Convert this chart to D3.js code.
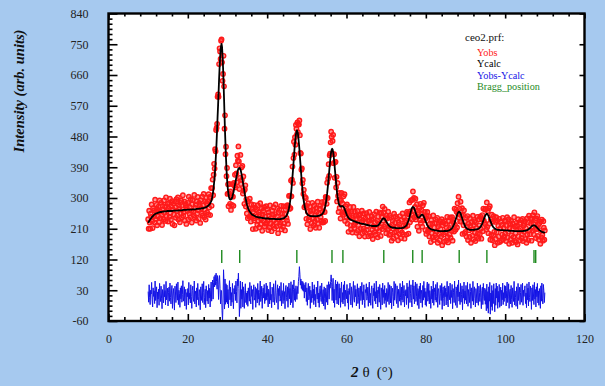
<!DOCTYPE html>
<html>
<head>
<meta charset="utf-8">
<script src="https://cdn.jsdelivr.net/npm/d3@7"></script>
<style>
  body { margin: 0; background: #a6c9ef; }
  svg { display: block; }
</style>
</head>
<body>
<svg id="chart"></svg>
<script>
// scan grid of the refinement (2theta, degrees)
const scanStart = 10;
const scanStep = 0.125;

// Ycalc, one value per step, 10 .. 110 (one row = 5 degrees)
const ycalc = [
  227,230,232,235,237,239,241,243,245,246,248,249,251,252,253,254,255,255,256,256,257,257,258,258,259,259,259,259,260,260,260,260,261,261,261,261,261,261,262,262,
  262,262,262,262,262,262,262,262,262,262,263,263,263,263,263,263,263,263,263,263,263,264,264,264,264,264,264,264,264,264,265,265,265,265,265,265,265,265,265,266,
  266,266,266,266,266,266,266,266,266,267,267,267,267,267,267,267,267,268,268,268,268,268,268,269,269,269,269,269,270,270,270,270,271,271,272,272,273,273,274,275,
  276,277,279,280,282,284,287,290,294,301,309,319,330,345,361,383,407,434,465,499,538,571,608,647,680,709,732,745,751,742,718,683,641,592,543,494,454,416,384,358,
  337,323,312,303,298,296,295,296,297,300,305,311,316,324,332,339,346,354,361,368,376,381,386,387,388,387,384,379,372,364,355,347,338,329,321,311,303,296,289,282,
  277,273,268,265,262,260,257,256,254,252,251,250,250,249,248,247,247,245,245,245,244,244,244,243,243,243,243,242,242,242,242,241,241,241,241,241,240,240,240,240,
  240,240,240,240,239,239,239,239,239,239,239,239,239,239,239,239,238,238,238,238,238,238,238,238,238,238,238,238,239,239,240,240,240,241,241,242,244,245,246,248,
  251,254,259,264,270,278,287,298,311,326,343,361,380,400,420,441,458,474,486,493,498,495,488,476,460,443,422,402,382,363,345,328,313,300,289,281,273,267,262,257,
  255,252,250,250,249,248,248,247,247,247,247,247,247,247,247,247,247,246,247,247,247,247,247,248,248,248,249,249,250,251,252,253,255,257,260,264,269,274,282,291,
  303,314,328,343,359,376,393,409,423,434,441,444,442,435,424,410,394,377,361,345,329,315,304,295,287,281,279,276,275,275,276,276,276,276,274,272,269,265,261,257,
  253,249,247,244,242,240,239,238,237,236,235,235,234,233,233,232,232,231,231,230,229,229,228,228,228,227,227,226,226,225,225,225,224,224,224,224,223,223,223,222,
  222,221,221,221,220,220,220,219,219,219,219,218,218,218,218,218,218,218,218,218,218,218,219,219,220,222,224,226,228,230,233,235,237,239,240,241,240,239,237,234,
  232,229,227,225,222,220,219,217,216,215,215,214,214,213,213,213,213,213,213,212,212,212,212,212,212,212,212,212,212,212,212,212,212,213,213,213,214,215,216,217,
  218,220,223,227,230,234,239,244,250,255,262,267,271,273,274,273,272,268,264,259,255,251,248,245,243,243,243,243,245,247,249,250,251,251,250,248,245,242,238,234,
  230,227,223,220,218,215,213,212,211,210,209,208,208,207,207,207,206,206,205,205,205,205,205,204,204,204,204,203,203,203,203,203,203,203,203,203,203,203,204,204,
  203,203,203,204,204,204,205,205,206,207,208,209,210,212,214,217,220,223,227,232,236,241,246,250,254,257,259,260,259,258,254,251,246,242,237,233,228,225,221,218,
  215,213,212,210,209,209,208,208,207,207,207,207,207,207,207,207,207,207,207,208,208,208,208,208,209,209,210,211,212,213,215,217,220,223,226,230,234,238,242,245,
  249,251,253,254,253,251,249,245,242,238,233,230,226,222,220,217,215,213,212,210,210,209,208,208,207,207,207,207,207,206,206,206,206,206,206,206,206,205,205,205,
  205,205,205,205,205,205,205,204,204,204,204,204,204,204,204,204,204,204,203,203,203,203,203,203,203,203,203,203,203,203,203,203,203,203,203,203,203,204,204,204,
  204,204,205,205,206,206,207,208,209,211,212,213,215,216,218,219,219,220,220,220,219,218,217,215,214,212,211,209,207,206,205,204,203,202,201,200,200,200,199,199,
  197
];

// Yobs - Ycalc, same steps
const residual = [
  11,-20,31,-7,-27,15,4,38,-13,-34,22,-3,13,-24,42,-15,6,25,-36,10,-11,18,-29,35,1,-18,27,-8,-39,17,7,-22,32,-4,14,-28,41,-13,3,21,
  -31,8,24,-17,36,-6,-25,13,29,-38,4,20,-11,-43,27,10,-21,34,-1,-14,39,-27,15,6,-35,22,-10,28,-20,3,43,-17,-7,25,-31,13,18,-41,8,-4,
  20,-28,38,-11,7,-22,31,-3,-38,15,27,-8,-18,42,-25,4,13,-34,22,-13,35,-4,-29,17,10,-42,25,1,-15,34,-21,8,41,-27,-6,18,-36,28,11,-17,
  14,-25,32,-8,21,-34,13,39,-17,28,45,-11,38,55,25,60,30,65,40,18,58,32,-12,45,58,20,-25,15,13,-45,-75,-20,75,35,-40,48,-26,34,-20,30,
  -25,17,-36,11,43,-13,24,-31,8,-20,35,-7,-39,20,4,29,-15,42,11,-22,48,28,65,20,-62,-28,42,-38,17,-11,39,-34,25,-8,-38,14,34,-21,7,-27,
  13,-32,22,4,-17,38,-10,-25,28,-3,17,-41,10,31,-14,-6,25,-35,20,1,-22,35,-11,15,-29,8,42,-18,-4,27,-38,11,21,-8,32,-24,6,-15,36,-13,
  28,-7,-34,18,10,-25,39,-14,3,-36,24,13,-20,34,-4,-28,15,43,-11,-21,8,31,-41,20,-1,27,-17,-10,38,-31,14,4,-24,35,-15,11,-39,22,29,-6,
  -17,25,-35,13,36,-10,20,-28,40,-21,11,31,-36,17,45,-14,20,-18,28,10,-12,26,5,40,55,84,62,30,48,20,42,15,40,12,35,-8,30,10,38,-18,
  22,-29,10,35,-13,-4,27,-38,15,6,-21,39,-8,18,-27,31,-15,3,-34,24,13,-11,42,-22,7,-35,20,28,-6,-18,36,-25,4,17,-31,25,-10,-41,21,11,
  -20,31,-28,14,40,-11,32,21,40,60,38,-15,25,50,-22,18,-35,28,45,-14,33,-25,40,11,-28,34,-8,21,-35,17,39,-20,8,-25,31,-13,42,-32,15,4,
  -10,32,-22,13,-41,20,3,36,-17,-28,25,7,-35,15,41,-11,-20,29,-4,18,-31,10,34,-24,-7,22,-39,14,27,-15,4,38,-27,11,-13,31,-21,-36,17,8,
  34,-14,-4,24,-32,13,39,-22,6,-29,18,28,-10,-38,21,-1,35,-17,11,-25,42,-8,15,-34,25,3,-20,32,-13,-41,22,10,-28,36,-6,17,-24,29,-15,7,
  -35,20,13,-18,38,-11,-27,31,1,-22,27,-39,8,21,-3,-31,41,-14,15,34,-10,-24,28,4,-36,18,11,-17,35,-7,-29,24,-13,42,-20,6,29,-34,14,-1,
  17,-27,36,-8,25,-38,13,43,-21,6,31,-15,-34,22,45,-11,28,-25,10,39,-18,-4,34,-29,20,13,-39,27,-10,36,-22,15,3,-35,29,-14,41,-6,21,-28,
  11,-32,24,39,-17,-7,34,-25,14,1,-38,27,-11,18,-22,42,-29,8,22,-14,32,-20,-3,38,-35,13,20,-8,-27,29,6,-15,35,-41,17,25,-10,-31,28,-4,
  21,-28,11,41,-18,-34,27,4,-13,36,-24,15,-6,32,-39,20,8,-21,42,-11,-29,25,14,-36,31,-4,45,-17,10,-27,35,-20,3,28,-42,18,-8,39,-24,13,
  -14,29,-25,7,38,-32,17,-3,-21,34,11,-38,22,1,-17,41,-28,14,25,-10,-34,20,4,-22,36,-13,-29,27,8,-18,31,-7,-39,15,24,-27,35,-4,-15,21,
  -26,17,-45,33,-38,11,-52,25,-17,38,-55,7,-33,29,-44,14,-24,34,-11,-48,20,-29,36,-8,27,-38,12,-20,32,-35,4,24,-31,15,-13,36,-27,8,-18,29,
  -8,27,-31,14,39,-21,-4,34,-38,10,18,-25,29,-13,-35,22,6,-18,41,-28,13,-6,-32,25,17,-39,35,-15,3,24,-27,8,32,-20,-10,36,-29,15,-3,20,
  28,-24,7,-36,34,-13,21,-31,39,-6,-18,27,10,-41,22,-15,31,4,-27,38,-11,17,-34,25,-4,35,-22,13,-29,20,1,-38,28,-17,36,-8,-25,32,14,-21,
  8
];

const diffOffset = 15;
const braggPositions = [28.55, 33.08, 47.48, 56.34, 59.09, 69.40, 76.70, 79.07, 88.41, 95.39, 107.27, 107.7];
const braggLow = 110, braggHigh = 148;

const xMajor = [0, 20, 40, 60, 80, 100, 120];
const xMinor = d3.range(0, 121, 4);
const yMajor = [-60, 30, 120, 210, 300, 390, 480, 570, 660, 750, 840];
const yMinor = d3.range(-60, 841, 15);

const legendTitle = 'ceo2.prf:';
const legendItems = [
  {label: 'Yobs', color: '#ff1a1a'},
  {label: 'Ycalc', color: '#000000'},
  {label: 'Yobs-Ycalc', color: '#1414e6'},
  {label: 'Bragg_position', color: '#1e8a1e'}
];

const width = 605, height = 386;
const serif = '"Liberation Serif", "Times New Roman", serif';

const x = d3.scaleLinear([0, 120], [108.5, 584.5]);
const y = d3.scaleLinear([-60, 840], [321, 13.5]);

const svg = d3.select('#chart').attr('width', width).attr('height', height);

const n = Math.min(ycalc.length, residual.length);
const pts = d3.range(n).map(i => ({
  t: scanStart + i * scanStep,
  calc: ycalc[i],
  obs: ycalc[i] + residual[i],
  diff: residual[i] + diffOffset
}));

svg.append('rect')
  .attr('x', x(0)).attr('y', y(840))
  .attr('width', x(120) - x(0)).attr('height', y(-60) - y(840))
  .attr('fill', '#fff');

svg.append('clipPath').attr('id', 'plotclip')
  .append('rect')
  .attr('x', x(0)).attr('y', y(840))
  .attr('width', x(120) - x(0)).attr('height', y(-60) - y(840));

const plot = svg.append('g').attr('clip-path', 'url(#plotclip)');

// observed points
plot.append('g')
  .attr('fill', '#ff1a1a')
  .attr('fill-opacity', 0.45)
  .attr('stroke', '#ff1a1a')
  .attr('stroke-width', 1.4)
  .selectAll('circle')
  .data(pts)
  .join('circle')
  .attr('cx', d => x(d.t))
  .attr('cy', d => y(d.obs))
  .attr('r', 2.2);

// calculated profile
plot.append('path')
  .datum(pts)
  .attr('fill', 'none')
  .attr('stroke', '#000')
  .attr('stroke-width', 1.8)
  .attr('stroke-linejoin', 'round')
  .attr('d', d3.line().x(d => x(d.t)).y(d => y(d.calc)));

// bragg ticks
plot.append('g')
  .attr('stroke', '#1e8a1e')
  .attr('stroke-width', 1.4)
  .selectAll('line')
  .data(braggPositions)
  .join('line')
  .attr('x1', d => x(d)).attr('x2', d => x(d))
  .attr('y1', y(braggHigh)).attr('y2', y(braggLow));

// difference curve
plot.append('path')
  .datum(pts)
  .attr('fill', 'none')
  .attr('stroke', '#1414e6')
  .attr('stroke-width', 1)
  .attr('d', d3.line().x(d => x(d.t)).y(d => y(d.diff)));

// axes (ticks pointing inward)
const styleAxis = g => {
  g.select('.domain').remove();
  g.selectAll('line').attr('stroke', '#000').attr('stroke-width', 1.6);
  g.selectAll('text').attr('font-family', serif).attr('font-size', 12).attr('fill', '#222');
};
const plain = d => String(d);

svg.append('g')
  .attr('transform', `translate(0,${y(-60)})`)
  .call(d3.axisBottom(x).tickValues(xMinor.filter(v => !xMajor.includes(v))).tickSize(-4).tickFormat(''))
  .call(styleAxis);
svg.append('g')
  .attr('transform', `translate(0,${y(-60)})`)
  .call(d3.axisBottom(x).tickValues(xMajor).tickSize(-7).tickPadding(13).tickFormat(plain))
  .call(styleAxis);

svg.append('g')
  .attr('transform', `translate(0,${y(840)})`)
  .call(d3.axisTop(x).tickValues(xMinor.filter(v => !xMajor.includes(v))).tickSize(-3).tickFormat(''))
  .call(styleAxis);
svg.append('g')
  .attr('transform', `translate(0,${y(840)})`)
  .call(d3.axisTop(x).tickValues(xMajor).tickSize(-5).tickFormat(''))
  .call(styleAxis);

svg.append('g')
  .attr('transform', `translate(${x(0)},0)`)
  .call(d3.axisLeft(y).tickValues(yMinor.filter(v => !yMajor.includes(v))).tickSize(-4).tickFormat(''))
  .call(styleAxis);
svg.append('g')
  .attr('transform', `translate(${x(0)},0)`)
  .call(d3.axisLeft(y).tickValues(yMajor).tickSize(-9).tickPadding(20).tickFormat(plain))
  .call(styleAxis);

svg.append('g')
  .attr('transform', `translate(${x(120)},0)`)
  .call(d3.axisRight(y).tickValues(yMajor).tickSize(-5).tickFormat(''))
  .call(styleAxis);

// frame
svg.append('rect')
  .attr('x', x(0)).attr('y', y(840))
  .attr('width', x(120) - x(0)).attr('height', y(-60) - y(840))
  .attr('fill', 'none')
  .attr('stroke', '#000')
  .attr('stroke-width', 2.4);

// axis titles
svg.append('text')
  .attr('transform', 'translate(24,91) rotate(-90)')
  .attr('text-anchor', 'middle')
  .attr('font-family', serif)
  .attr('font-size', 14.5)
  .attr('font-weight', 'bold')
  .attr('font-style', 'italic')
  .attr('fill', '#111')
  .text('Intensity (arb. units)');

const xt = svg.append('text')
  .attr('x', 351)
  .attr('y', 377)
  .attr('font-family', serif)
  .attr('font-size', 15)
  .attr('fill', '#111');
xt.append('tspan').attr('font-weight', 'bold').attr('font-style', 'italic').text('2');
xt.append('tspan').attr('dx', 4).text('θ');
xt.append('tspan').attr('dx', 7).text('(°)');

// legend
svg.append('text')
  .attr('x', 465).attr('y', 41)
  .attr('font-family', serif).attr('font-size', 11)
  .attr('fill', '#111')
  .text(legendTitle);

svg.append('g')
  .selectAll('text')
  .data(legendItems)
  .join('text')
  .attr('x', 477)
  .attr('y', (d, i) => 56 + i * 11.3)
  .attr('font-family', serif)
  .attr('font-size', 10.2)
  .attr('fill', d => d.color)
  .text(d => d.label);
</script>
</body>
</html>
